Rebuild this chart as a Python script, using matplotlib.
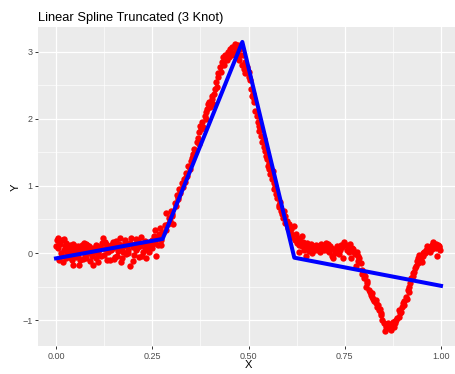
import matplotlib.pyplot as plt
import numpy as np

plt.rcParams['font.family'] = ['Liberation Sans', 'DejaVu Sans']

x_flat = [0.002, 0.004, 0.006, 0.008, 0.011, 0.013, 0.015, 0.018, 0.020, 0.023,
          0.025, 0.027, 0.030, 0.032, 0.035, 0.037, 0.040, 0.042, 0.045, 0.047,
          0.050, 0.053, 0.055, 0.058, 0.060, 0.062, 0.065, 0.068, 0.070, 0.073,
          0.075, 0.078, 0.080, 0.083, 0.085, 0.088, 0.091, 0.093, 0.096, 0.098,
          0.101, 0.104, 0.106, 0.109, 0.112, 0.114, 0.117, 0.120, 0.122, 0.125,
          0.128, 0.130, 0.133, 0.136, 0.139, 0.141, 0.144, 0.147, 0.149, 0.152,
          0.155, 0.158, 0.160, 0.163, 0.166, 0.169, 0.171, 0.174, 0.177, 0.180,
          0.183, 0.185, 0.188, 0.191, 0.193, 0.196, 0.199, 0.202, 0.205, 0.207,
          0.210, 0.213, 0.216, 0.219, 0.222, 0.225, 0.228, 0.231, 0.234, 0.237,
          0.240, 0.243, 0.246, 0.249, 0.252, 0.255, 0.258, 0.261, 0.264, 0.267,
          0.270, 0.273, 0.276]
y_flat = [0.20, 0.07, 0.22, -0.10, 0.13, 0.00, 0.19, -0.13, 0.05, 0.10,
          -0.08, 0.15, 0.09, -0.02, 0.04, 0.12, 0.02, -0.10, -0.18, 0.06,
          0.11, -0.06, 0.00, -0.05, -0.18, 0.09, 0.03, 0.12, -0.09, 0.06,
          -0.03, 0.14, 0.12, 0.00, 0.05, -0.12, 0.08, -0.04, -0.18, 0.07,
          0.02, -0.08, 0.10, -0.13, 0.04, 0.08, -0.05, 0.15, 0.22, -0.03,
          0.06, 0.13, -0.10, 0.01, 0.09, -0.10, 0.05, 0.16, 0.07, -0.06,
          0.11, -0.05, 0.03, 0.14, 0.22, -0.13, 0.08, 0.02, 0.12, 0.17,
          -0.02, 0.10, 0.05, -0.20, 0.15, 0.22, 0.09, -0.03, 0.13, 0.04,
          0.07, 0.18, -0.06, 0.11, 0.24, 0.02, 0.15, 0.08, -0.08, 0.12,
          0.05, 0.16, 0.09, 0.20, 0.13, 0.26, 0.34, -0.05, 0.12, 0.28,
          0.37, 0.20, 0.30]

x_rise = [0.279, 0.282, 0.285, 0.287, 0.290, 0.293, 0.296, 0.299, 0.302, 0.305,
          0.308, 0.311, 0.314, 0.317, 0.320, 0.323, 0.326, 0.329, 0.332, 0.335,
          0.338, 0.341, 0.344, 0.347, 0.350, 0.353, 0.356, 0.359, 0.362, 0.365,
          0.368, 0.371, 0.374, 0.377, 0.380, 0.383, 0.386, 0.389, 0.392, 0.395,
          0.398, 0.401, 0.404, 0.407, 0.410, 0.413, 0.416, 0.419, 0.422, 0.425,
          0.428, 0.431, 0.434, 0.437, 0.440, 0.443, 0.446, 0.449, 0.452, 0.455,
          0.458, 0.461, 0.464, 0.467, 0.470, 0.473, 0.476, 0.479]
y_rise = [0.30, 0.42, 0.35, 0.59, 0.44, 0.52, 0.48, 0.62, 0.58, 0.44,
          0.74, 0.70, 0.87, 0.80, 0.95, 0.90, 1.05, 0.98, 1.10, 1.06,
          1.20, 1.15, 1.30, 1.25, 1.38, 1.42, 1.45, 1.55, 1.50, 1.65,
          1.72, 1.62, 1.90, 1.85, 1.95, 1.88, 2.05, 2.00, 2.15, 2.22,
          2.25, 2.18, 2.30, 2.22, 2.38, 2.45, 2.55, 2.48, 2.62, 2.78,
          2.70, 2.85, 2.92, 2.80, 2.95, 2.88, 3.00, 2.92, 3.05, 2.95,
          3.08, 2.98, 3.12, 3.05, 2.92, 3.10, 2.88, 2.95]

x_fall = [0.482, 0.485, 0.488, 0.491, 0.494, 0.497, 0.500, 0.503, 0.506, 0.509,
          0.512, 0.515, 0.518, 0.521, 0.524, 0.527, 0.530, 0.533, 0.536, 0.539,
          0.542, 0.545, 0.548, 0.551, 0.554, 0.557, 0.560, 0.563, 0.566, 0.569,
          0.572, 0.575, 0.578, 0.581, 0.584, 0.587, 0.590, 0.593, 0.596, 0.599,
          0.602, 0.605, 0.608, 0.611, 0.614, 0.617, 0.620]
y_fall = [2.80, 2.95, 2.75, 2.85, 2.70, 2.78, 2.62, 2.58, 2.45, 2.35,
          2.38, 2.25, 2.12, 2.05, 1.95, 1.82, 1.88, 1.75, 1.65, 1.58,
          1.52, 1.45, 1.40, 1.30, 1.26, 1.18, 1.10, 1.22, 0.95, 0.98,
          0.88, 0.82, 0.72, 0.76, 0.62, 0.58, 0.52, 0.62, 0.45, 0.48,
          0.38, 0.44, 0.30, 0.36, 0.24, 0.40, 0.20]

x_tail = [0.623, 0.626, 0.629, 0.632, 0.635, 0.638, 0.641, 0.644, 0.647, 0.650,
          0.653, 0.656, 0.659, 0.662, 0.665, 0.668, 0.671, 0.674, 0.677, 0.680,
          0.683, 0.686, 0.689, 0.692, 0.695, 0.698, 0.701, 0.704, 0.707, 0.710,
          0.713, 0.716, 0.719, 0.722, 0.725, 0.728, 0.731, 0.734, 0.737, 0.740,
          0.743, 0.746, 0.749, 0.752, 0.755, 0.758, 0.761, 0.764, 0.767, 0.770,
          0.773, 0.776, 0.779, 0.782, 0.785, 0.788, 0.791, 0.794, 0.797, 0.800,
          0.803, 0.806, 0.809, 0.812, 0.815, 0.818, 0.821, 0.824, 0.827, 0.830,
          0.833, 0.836, 0.839, 0.842, 0.845, 0.848, 0.851, 0.854, 0.857, 0.860,
          0.863, 0.866, 0.869, 0.872, 0.875, 0.878, 0.881, 0.884, 0.887, 0.890,
          0.893, 0.896, 0.899, 0.902, 0.905, 0.908, 0.911, 0.914, 0.917, 0.920,
          0.923, 0.926, 0.929, 0.932, 0.935, 0.938, 0.941, 0.944, 0.947, 0.950,
          0.953, 0.956, 0.959, 0.962, 0.965, 0.968, 0.971, 0.974, 0.977, 0.980,
          0.983, 0.986, 0.989, 0.992, 0.995, 0.998]
y_tail = [0.28, 0.15, 0.22, 0.02, 0.18, 0.10, 0.17, 0.05, 0.09, -0.05,
          0.12, 0.03, 0.08, 0.14, 0.00, 0.07, 0.11, 0.04, 0.10, 0.04,
          0.09, 0.02, 0.13, 0.07, 0.05, 0.10, 0.15, 0.04, 0.14, 0.02,
          0.08, -0.04, -0.08, 0.06, 0.00, 0.03, 0.10, -0.02, 0.05, 0.12,
          0.09, -0.08, 0.16, 0.12, 0.05, 0.10, 0.07, 0.13, -0.08, 0.08,
          0.02, -0.02, -0.20, 0.02, -0.05, -0.08, -0.15, -0.25, -0.30, -0.38,
          -0.35, -0.50, -0.45, -0.55, -0.58, -0.62, -0.65, -0.68, -0.72, -0.75,
          -0.80, -0.78, -0.85, -0.83, -0.92, -1.00, -1.05, -1.17, -1.10, -1.12,
          -1.05, -1.07, -1.15, -1.08, -1.03, -1.10, -1.05, -1.00, -0.97, -0.95,
          -0.90, -0.88, -0.80, -0.75, -0.72, -0.65, -0.68, -0.55, -0.50, -0.45,
          -0.38, -0.35, -0.28, -0.23, -0.20, -0.12, -0.08, -0.03, -0.10, -0.13,
          -0.05, 0.02, 0.00, 0.05, 0.04, 0.08, 0.02, 0.10, 0.12, 0.17,
          0.10, 0.14, -0.05, 0.12, 0.09, 0.05]

# pontos extras (x, y) que se sobrepoem nas regioes mais densas
extra_pts = [(0.001, 0.10), (0.009, 0.17), (0.016, -0.05), (0.021, 0.21),
             (0.028, 0.02), (0.033, 0.11), (0.038, -0.07), (0.043, 0.14),
             (0.052, 0.04), (0.057, 0.10), (0.063, -0.10), (0.067, 0.06),
             (0.072, 0.15), (0.079, -0.08), (0.086, 0.10), (0.094, 0.03),
             (0.103, 0.12), (0.110, -0.02), (0.118, 0.08), (0.126, 0.17),
             (0.134, 0.04), (0.142, 0.12), (0.150, -0.09), (0.157, 0.18),
             (0.164, 0.06), (0.172, -0.07), (0.178, 0.20), (0.186, 0.00),
             (0.194, 0.14), (0.200, -0.12), (0.208, 0.21), (0.215, 0.10),
             (0.224, -0.04), (0.232, 0.18), (0.241, 0.02), (0.250, 0.07),
             (0.256, 0.16), (0.265, 0.22), (0.272, 0.12),
             (0.300, 0.55), (0.318, 0.84), (0.337, 1.14), (0.355, 1.48),
             (0.372, 1.80), (0.390, 2.10), (0.405, 2.35), (0.420, 2.68),
             (0.435, 2.82), (0.450, 2.98), (0.465, 2.95), (0.478, 3.05),
             (0.490, 2.68), (0.502, 2.70), (0.513, 2.30), (0.526, 1.90),
             (0.540, 1.70), (0.552, 1.35), (0.565, 1.05), (0.580, 0.68),
             (0.595, 0.55), (0.610, 0.28),
             (0.630, 0.12), (0.640, 0.25), (0.652, 0.15), (0.664, 0.05),
             (0.676, 0.12), (0.688, 0.06), (0.700, 0.08), (0.712, 0.10),
             (0.724, 0.02), (0.736, 0.07), (0.748, 0.14), (0.760, 0.02),
             (0.772, 0.06), (0.784, -0.12), (0.796, -0.32), (0.808, -0.42),
             (0.820, -0.60), (0.832, -0.70), (0.844, -0.90), (0.856, -1.08),
             (0.868, -1.12), (0.880, -1.02), (0.892, -0.85), (0.904, -0.78),
             (0.916, -0.58), (0.928, -0.30), (0.940, -0.15), (0.952, 0.00),
             (0.964, 0.10), (0.976, 0.06), (0.988, 0.08), (0.996, 0.11)]

# spline linear truncada: valores ajustados nos extremos e nos 3 nos
knot_x = [0.0, 0.277, 0.484, 0.619, 1.0]
knot_y = [-0.08, 0.21, 3.15, -0.07, -0.49]

ex, ey = zip(*extra_pts)
x = np.concatenate([x_flat, x_rise, x_fall, x_tail, ex])
y = np.concatenate([y_flat, y_rise, y_fall, y_tail, ey])

W, H = 455, 374
fig = plt.figure(figsize=(W / 100, H / 100), dpi=100)
ax = fig.add_axes([38.3 / W, 28 / H, 420.4 / W, 319 / H])
ax.set_facecolor('#EBEBEB')
ax.set_xlim(-0.046, 1.046)
ax.set_ylim(-1.388, 3.373)

ax.set_xticks([0, 0.25, 0.5, 0.75, 1.0])
ax.set_xticklabels(['0.00', '0.25', '0.50', '0.75', '1.00'])
ax.set_yticks([-1, 0, 1, 2, 3])
ax.set_xticks([0.125, 0.375, 0.625, 0.875], minor=True)
ax.set_yticks([-0.5, 0.5, 1.5, 2.5], minor=True)
ax.grid(which='major', color='white', lw=0.9)
ax.grid(which='minor', color='white', lw=0.45)
ax.set_axisbelow(True)
ax.tick_params(which='minor', length=0)
ax.tick_params(which='major', length=2.2, width=0.7, color='#333333',
               labelsize=6.5, labelcolor='#4D4D4D', pad=2)
for s in ax.spines.values():
    s.set_visible(False)

ax.scatter(x, y, s=21, c='red', lw=0, zorder=2)
ax.plot(knot_x, knot_y, color='blue', lw=2.9, zorder=3)

fig.text(38.3 / W, 1 - 21 / H, 'Linear Spline Truncated (3 Knot)',
         fontsize=9.3, va='baseline', ha='left')
fig.text(248.5 / W, 1 - 365 / H, 'X', fontsize=8, ha='center', va='center')
fig.text(16 / W, 1 - 187 / H, 'Y', fontsize=8, ha='center', va='center',
         rotation=90)

fig.savefig('out.png', dpi=100)
